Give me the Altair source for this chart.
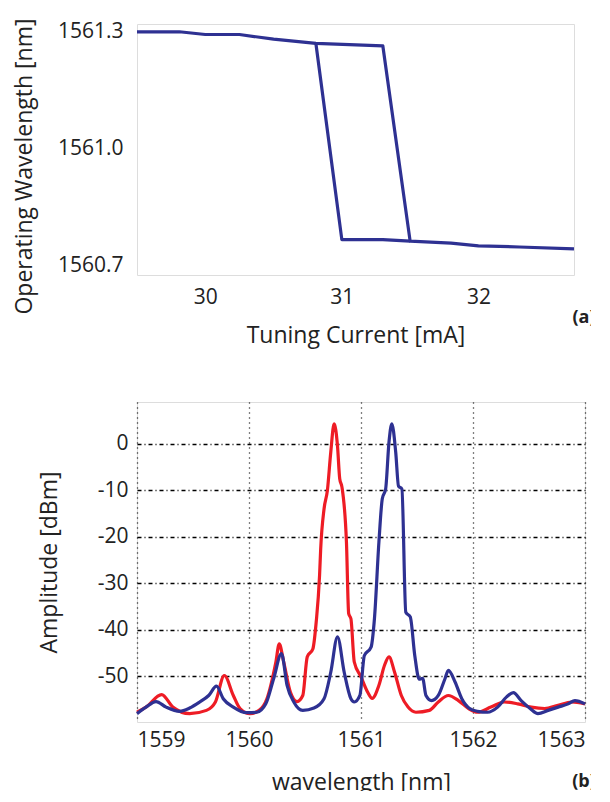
import altair as alt
import pandas as pd

# ---------- Panel (a): hysteresis of operating wavelength ----------
a_up_x = [29.5, 29.81, 30.0, 30.25, 30.5, 30.81, 31.30, 31.50, 31.8, 32.0, 32.3, 32.7]
a_up_y = [1561.300, 1561.300, 1561.293, 1561.293, 1561.281, 1561.270, 1561.264,
          1560.762, 1560.757, 1560.750, 1560.747, 1560.742]
a_dn_x = [30.81, 31.0, 31.3, 31.5]
a_dn_y = [1561.270, 1560.766, 1560.766, 1560.762]

# ---------- Panel (b): optical spectra ----------
red_x = [1559.0, 1559.08, 1559.22, 1559.32, 1559.47, 1559.62, 1559.70, 1559.78, 1559.86,
         1559.92, 1560.01, 1560.09, 1560.16, 1560.24, 1560.27, 1560.31, 1560.37, 1560.43,
         1560.48, 1560.52, 1560.57, 1560.60, 1560.63, 1560.64, 1560.67, 1560.70, 1560.73,
         1560.76, 1560.79, 1560.81, 1560.83, 1560.87, 1560.89, 1560.91, 1560.94, 1561.0,
         1561.06, 1561.10, 1561.16, 1561.21, 1561.25, 1561.30, 1561.36, 1561.42, 1561.49,
         1561.61, 1561.69, 1561.78, 1561.87, 1561.96, 1562.04, 1562.16, 1562.28, 1562.40,
         1562.52, 1562.64, 1562.76, 1562.88, 1563.0]
red_y = [-57.7, -56.6, -53.9, -56.6, -58.0, -57.3, -55.5, -49.8, -54.1,
         -56.9, -58.0, -57.3, -54.8, -46.9, -43.0, -46.9, -53.4, -55.4,
         -54.1, -45.8, -44.1, -38.3, -28.3, -22.6, -14.0, -10.0, -1.8,
         4.3, -0.4, -7.5, -9.3, -21.1, -36.5, -37.6, -46.9, -50.1,
         -53.4, -54.7, -51.9, -47.6, -45.8, -49.1, -54.1, -56.6, -57.7,
         -57.3, -55.5, -54.1, -55.2, -56.9, -57.7, -56.6, -55.5, -55.9,
         -56.6, -56.9, -56.2, -55.5, -55.9]

blue_x = [1559.0, 1559.08, 1559.17, 1559.26, 1559.38, 1559.47, 1559.56, 1559.64, 1559.71,
          1559.77, 1559.86, 1559.98, 1560.07, 1560.15, 1560.22, 1560.29, 1560.34, 1560.40,
          1560.48, 1560.58, 1560.67, 1560.73, 1560.79, 1560.85, 1560.91, 1560.94, 1560.99,
          1561.03, 1561.09, 1561.12, 1561.16, 1561.19, 1561.22, 1561.25, 1561.275, 1561.31,
          1561.335, 1561.365, 1561.40, 1561.44, 1561.48, 1561.52, 1561.55, 1561.58, 1561.63,
          1561.69, 1561.75, 1561.78, 1561.84, 1561.90, 1561.97, 1562.04, 1562.13, 1562.22,
          1562.30, 1562.36, 1562.43, 1562.51, 1562.58, 1562.67, 1562.76, 1562.85, 1562.91,
          1563.0]
blue_y = [-58.0, -56.6, -55.4, -56.6, -57.5, -56.8, -55.5, -54.1, -52.1,
          -54.8, -56.6, -57.8, -57.7, -55.9, -50.5, -45.1, -51.9, -55.5,
          -57.3, -56.8, -54.8, -49.1, -41.5, -49.1, -54.8, -55.5, -54.1,
          -45.5, -43.7, -37.6, -21.1, -11.8, -9.7, 0.4, 4.3, -1.8,
          -9.1, -9.7, -36.2, -37.2, -45.5, -50.6, -50.4, -54.1, -55.2,
          -54.1, -50.5, -48.7, -51.2, -54.8, -56.9, -57.5, -57.7, -56.6,
          -54.4, -53.5, -55.2, -56.9, -58.0, -57.3, -56.6, -55.9, -55.2,
          -55.9]

a_x_ticks = [30, 31, 32]
a_y_ticks = [1560.7, 1561.0, 1561.3]
b_x_ticks = [1559, 1560, 1561, 1562, 1563]
b_y_ticks = [0, -10, -20, -30, -40, -50]

BLUE = "#2e3192"
RED = "#ee1c25"
FONT = "Open Sans"
TXT = "#222222"

# --- build tables ---
df_a = pd.DataFrame(
    [{"seg": "up", "i": i, "x": x, "y": y} for i, (x, y) in enumerate(zip(a_up_x, a_up_y))]
    + [{"seg": "down", "i": i, "x": x, "y": y} for i, (x, y) in enumerate(zip(a_dn_x, a_dn_y))]
)
df_b = pd.DataFrame(
    [{"s": "red", "i": i, "x": x, "y": y} for i, (x, y) in enumerate(zip(red_x, red_y))]
    + [{"s": "blue", "i": i, "x": x, "y": y} for i, (x, y) in enumerate(zip(blue_x, blue_y))]
)

axis_common = dict(
    labelFont=FONT, titleFont=FONT, labelColor=TXT, titleColor=TXT,
    labelFontSize=21, titleFontSize=23, titleFontWeight="normal",
    domain=False, ticks=False,
)

line_a = alt.Chart(df_a).mark_line(color=BLUE, strokeWidth=3.2, strokeJoin="round").encode(
    x=alt.X("x:Q", scale=alt.Scale(domain=[29.5, 32.7], nice=False, zero=False),
            axis=alt.Axis(values=a_x_ticks, title="Tuning Current [mA]", grid=False,
                          labelPadding=11, titlePadding=17, **axis_common)),
    y=alt.Y("y:Q", scale=alt.Scale(domain=[1560.675, 1561.32], nice=False, zero=False),
            axis=alt.Axis(values=a_y_ticks, format=".1f", title="Operating Wavelength [nm]",
                          grid=False, labelPadding=14, titlePadding=21, titleY=142,
                          **axis_common)),
    detail="seg:N",
    order="i:Q",
)
lab_a = alt.Chart(pd.DataFrame({"t": ["(a)"]})).mark_text(
    font=FONT, fontSize=18, fontWeight="bold", color=TXT
).encode(text="t:N", x=alt.value(447), y=alt.value(294))

panel_a = alt.layer(line_a, lab_a).properties(width=437, height=251)

line_b = alt.Chart(df_b).mark_line(strokeWidth=3.2, strokeJoin="round",
                                   interpolate="monotone").encode(
    x=alt.X("x:Q", scale=alt.Scale(domain=[1559, 1563], nice=False, zero=False),
            axis=alt.Axis(values=b_x_ticks, format="d", title="wavelength [nm]", grid=True,
                          gridColor="#000000", gridDash=[1, 4], gridWidth=1.3,
                          labelPadding=7, titlePadding=21, **axis_common)),
    y=alt.Y("y:Q", scale=alt.Scale(domain=[-59.8, 9], nice=False, zero=False),
            axis=alt.Axis(values=b_y_ticks, labelExpr="toString(datum.value)",
                          title="Amplitude [dBm]", grid=True,
                          gridColor="#000000", gridDash=[4, 3, 1, 3], gridWidth=1.3,
                          labelPadding=9, titlePadding=36, **axis_common)),
    color=alt.Color("s:N", scale=alt.Scale(domain=["red", "blue"], range=[RED, BLUE]),
                    legend=None),
    detail="s:N",
    order="i:Q",
)
lab_b = alt.Chart(pd.DataFrame({"t": ["(b)"]})).mark_text(
    font=FONT, fontSize=18, fontWeight="bold", color=TXT
).encode(text="t:N", x=alt.value(447), y=alt.value(380))

panel_b = alt.layer(line_b, lab_b).properties(width=448, height=320)

chart = alt.vconcat(panel_a, panel_b, spacing=53).properties(
    padding={"top": 9, "left": 4, "right": -6, "bottom": -4}
).configure_view(
    stroke="#555555", strokeWidth=1.2
).configure(background="white")

chart.save("out.html", embed_options={"renderer": "svg", "actions": False})
